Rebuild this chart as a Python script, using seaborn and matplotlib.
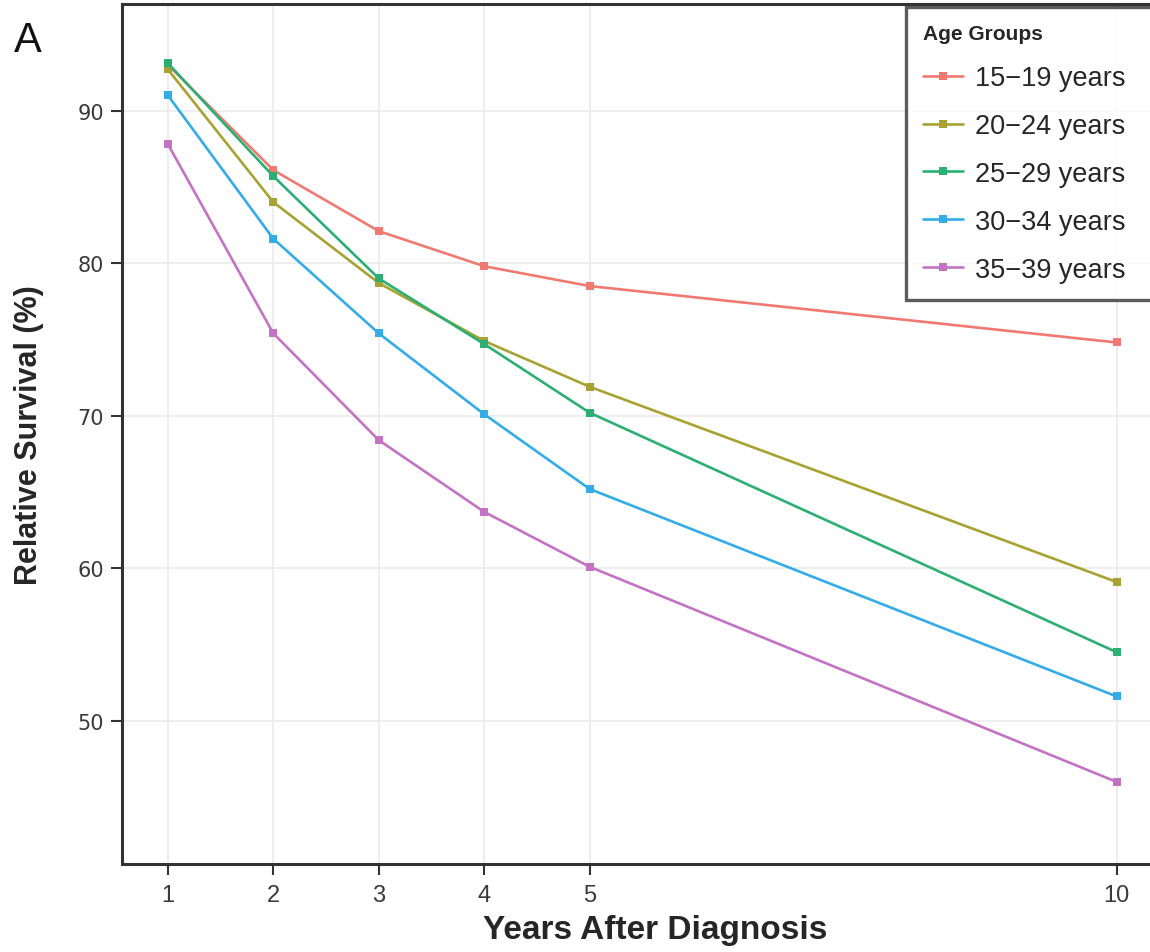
import pandas as pd
import matplotlib
matplotlib.use("Agg")
import matplotlib.pyplot as plt
import seaborn as sns

# -------------- Data

years = [1, 2, 3, 4, 5, 10]
groups = ["15\u221219 years", "20\u221224 years", "25\u221229 years", "30\u221234 years", "35\u221239 years"]

surv_15_19 = [93.0, 86.1, 82.1, 79.8, 78.5, 74.8]
surv_20_24 = [92.7, 84.0, 78.7, 74.9, 71.9, 59.1]
surv_25_29 = [93.1, 85.7, 79.0, 74.7, 70.2, 54.5]
surv_30_34 = [91.0, 81.6, 75.4, 70.1, 65.2, 51.6]
surv_35_39 = [87.8, 75.4, 68.4, 63.7, 60.1, 46.0]

colors = ["#F07A72", "#A8A233", "#2BAF74", "#33ACE8", "#C473C4"]

rows = []
for g, vals in zip(groups, [surv_15_19, surv_20_24, surv_25_29, surv_30_34, surv_35_39]):
    for y, v in zip(years, vals):
        rows.append({"Years": y, "Survival": v, "Group": g})
df = pd.DataFrame(rows)

# -------------- Plot

sns.set_theme(style="white")
plt.rcParams["font.family"] = ["Liberation Sans", "DejaVu Sans"]

fig = plt.figure(figsize=(11.5, 9.53), dpi=100)
# panel runs a little past the right edge of the picture (as in the reference crop)
ax = fig.add_axes([0.106, 0.092, 0.899, 0.903])

sns.lineplot(data=df, x="Years", y="Survival", hue="Group", palette=colors,
             marker="s", markersize=5.5, markeredgewidth=0, linewidth=1.9, ax=ax)

ax.set_xlim(0.564, 10.37)
ax.set_ylim(40.6, 97.0)
ax.set_xticks(years)
ax.set_yticks([50, 60, 70, 80, 90])
ax.grid(True, color="#ebebeb", linewidth=1.2)
ax.set_axisbelow(True)

for s in ax.spines.values():
    s.set_color("#333333")
    s.set_linewidth(2.2)

ax.tick_params(axis="both", direction="out", length=8, width=1.5, color="#333333",
               labelcolor="#3a3a3a", left=True, bottom=True)
ax.tick_params(axis="x", labelsize=17, pad=6)
ax.tick_params(axis="y", labelsize=15, pad=5)
for lab in ax.get_yticklabels():
    lab.set_family("DejaVu Sans")

ax.set_xlabel("Years After Diagnosis", fontsize=24, fontweight="bold", labelpad=12)
ax.xaxis.set_label_coords(0.516, -0.058)
ax.set_ylabel("Relative Survival (%)", fontsize=22, fontweight="bold", labelpad=24)

# legend box: expanded to run past the right edge like the reference
leg = ax.legend(title="Age Groups", loc="upper left", mode="expand", fontsize=19.5,
                frameon=True, fancybox=False, borderpad=0.64, labelspacing=0.81,
                handlelength=1.48, handletextpad=0.44, borderaxespad=0,
                bbox_to_anchor=(0.758, 0.651, 0.26, 0.3455))
leg.get_title().set_fontweight("bold")
leg.get_title().set_fontsize(15)
leg._legend_box.align = "left"
leg.get_frame().set_edgecolor("#333333")
leg.get_frame().set_linewidth(2.4)

fig.text(0.012, 0.945, "A", fontsize=30, color="#111111")

fig.savefig("out.png", dpi=100)
